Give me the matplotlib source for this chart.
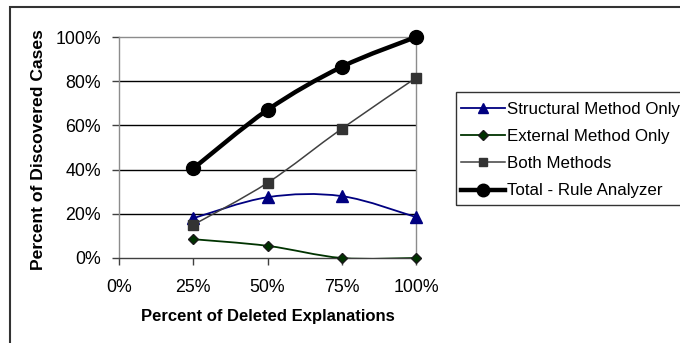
import numpy as np
import matplotlib
matplotlib.use("Agg")
from matplotlib import pyplot as plt
from matplotlib.path import Path
from matplotlib.patches import PathPatch, Rectangle
from matplotlib.lines import Line2D

# Chart data (fractions of 1)
deleted = [0.25, 0.50, 0.75, 1.00]
structural = [0.18, 0.275, 0.28, 0.185]
external = [0.085, 0.055, 0.0, 0.0]
both = [0.15, 0.34, 0.585, 0.815]
total = [0.405, 0.67, 0.865, 1.00]

x_ticks = [0, 0.25, 0.5, 0.75, 1.0]
x_tick_labels = ['0%', '25%', '50%', '75%', '100%']
y_ticks = [0, 0.2, 0.4, 0.6, 0.8, 1.0]
y_tick_labels = ['0%', '20%', '40%', '60%', '80%', '100%']

series_names = ['Structural Method Only', 'External Method Only',
                'Both Methods', 'Total - Rule Analyzer']

plt.rcParams['font.family'] = ['Liberation Sans', 'DejaVu Sans']
TICK_FS = 12.8
LEG_FS = 12.2
LAB_FS = 12


def smooth_path(xs, ys):
    """Bezier path through the points, like Excel's smoothed line."""
    pts = np.column_stack([xs, ys]).astype(float)
    ext = np.vstack([pts[0], pts, pts[-1]])
    verts = [pts[0]]
    codes = [Path.MOVETO]
    for i in range(len(pts) - 1):
        p0, p1, p2, p3 = ext[i], ext[i + 1], ext[i + 2], ext[i + 3]
        verts += [p1 + (p2 - p0) / 6, p2 - (p3 - p1) / 6, p2]
        codes += [Path.CURVE4] * 3
    return Path(verts, codes)


fig = plt.figure(figsize=(6.8, 3.43), dpi=100)
ax = fig.add_axes([119 / 680, 1 - 258 / 343, 297 / 680, 221 / 343])

styles = [
    dict(color='#000080', lw=1.3, marker='^', ms=8, mfc='#000080', mec='#000080'),
    dict(color='#003300', lw=1.3, marker='D', ms=5.5, mfc='#003300', mec='#1a1a1a'),
    dict(color='#404040', lw=1.1, marker='s', ms=6.5, mfc='#333333', mec='#333333'),
    dict(color='black', lw=3.2, marker='o', ms=10, mfc='black', mec='black'),
]
all_series = [structural, external, both, total]

handles = []
for ys, st in zip(all_series, styles):
    ax.add_patch(PathPatch(smooth_path(deleted, ys), fill=False,
                           edgecolor=st['color'], lw=st['lw'], zorder=3,
                           capstyle='round', joinstyle='round'))
    ax.plot(deleted, ys, ls='none', marker=st['marker'], ms=st['ms'],
            mfc=st['mfc'], mec=st['mec'], zorder=4, clip_on=False)
    handles.append(Line2D([], [], color=st['color'], lw=st['lw'],
                          marker=st['marker'], ms=st['ms'] * 0.9,
                          mfc=st['mfc'], mec=st['mec']))

ax.set_xlim(0, 1)
ax.set_ylim(0, 1)
ax.set_xticks(x_ticks)
ax.set_xticklabels(x_tick_labels)
ax.set_yticks(y_ticks)
ax.set_yticklabels(y_tick_labels)
ax.tick_params(axis='both', labelsize=TICK_FS, direction='out', length=5,
               width=1, color='#404040')
ax.tick_params(axis='x', pad=10)
ax.tick_params(axis='y', pad=8)

for y in y_ticks[1:-1]:
    ax.axhline(y, color='black', lw=1, zorder=1)
for side in ['top', 'right', 'left']:
    ax.spines[side].set_color('#8c8c8c')
    ax.spines[side].set_linewidth(1)
ax.spines['bottom'].set_color('#404040')
ax.spines['bottom'].set_linewidth(1)

fig.text(267.5 / 680, 1 - 316 / 343, 'Percent of Deleted Explanations',
         ha='center', va='center', fontsize=LAB_FS, fontweight='bold')
fig.text(39 / 680, 1 - 150 / 343, 'Percent of Discovered Cases',
         ha='center', va='center', rotation=90, fontsize=12.6,
         fontweight='bold')

# outer chart frame (cut off at right and bottom)
fig.patches.append(Rectangle((10 / 680, -0.2), 1.2, 1 - 7 / 343 + 0.2,
                             transform=fig.transFigure, fill=False,
                             edgecolor='#333333', lw=1.5))
# legend box (runs past the right edge)
fig.patches.append(Rectangle((456 / 680, 1 - 205 / 343), 0.5, 113 / 343,
                             transform=fig.transFigure, fill=False,
                             edgecolor='#333333', lw=1))

fig.legend(handles, series_names, loc='upper left',
           bbox_to_anchor=(458 / 680, 1 - 98.5 / 343), frameon=False,
           fontsize=LEG_FS, handlelength=2.6, handletextpad=0.12,
           labelspacing=0.72, borderpad=0.2, borderaxespad=0)

fig.savefig('out.png', dpi=100)
